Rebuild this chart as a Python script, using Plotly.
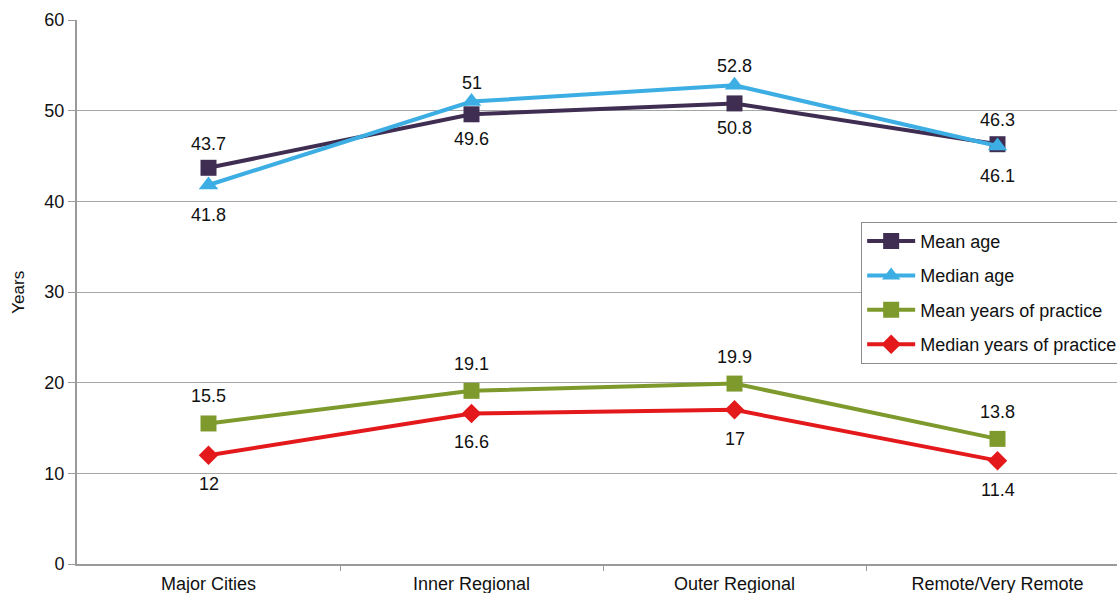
import plotly.graph_objects as go

regions = ["Major Cities", "Inner Regional", "Outer Regional", "Remote/Very Remote"]
mean_age = [43.7, 49.6, 50.8, 46.3]
median_age = [41.8, 51, 52.8, 46.1]
mean_practice = [15.5, 19.1, 19.9, 13.8]
median_practice = [12, 16.6, 17, 11.4]

x = list(range(len(regions)))
FONT = "Liberation Sans, Arial, sans-serif"

# label side per point: +1 above the marker, -1 below
series = [
    dict(name="Mean age", y=mean_age, color="#3F2E52", symbol="square", size=16,
         side=[1, -1, -1, 1], up=24, down=25),
    dict(name="Median age", y=median_age, color="#3CAEE3", symbol="triangle-up", size=17,
         side=[-1, 1, 1, -1], up=19, down=30),
    dict(name="Mean years of practice", y=mean_practice, color="#7E9A2D", symbol="square", size=16,
         side=[1, 1, 1, 1], up=27, down=27),
    dict(name="Median years of practice", y=median_practice, color="#E3191C", symbol="diamond", size=15,
         side=[-1, -1, -1, -1], up=29, down=29),
]

fig = go.Figure()
annotations = []
for i, s in enumerate(series):
    fig.add_trace(go.Scatter(
        x=x, y=s["y"], name=s["name"], legendgroup=f"g{i}",
        mode="lines+markers",
        line=dict(color=s["color"], width=4),
        marker=dict(color=s["color"], symbol=s["symbol"], size=s["size"]),
        cliponaxis=False,
    ))
    for xi, v, sd in zip(x, s["y"], s["side"]):
        annotations.append(dict(
            x=xi, y=v, xref="x", yref="y", text=f"{v:g}", showarrow=False,
            xanchor="center", yanchor="middle",
            yshift=s["up"] if sd > 0 else -s["down"],
            font=dict(family=FONT, size=18, color="#111111"),
        ))

annotations.append(dict(
    text="Years", textangle=-90, xref="paper", yref="paper",
    x=-0.057, y=0.5, xanchor="center", yanchor="middle", showarrow=False,
    font=dict(family=FONT, size=17, color="#111111"),
))

grid = "#A6A6A6"
fig.update_layout(
    width=1117, height=593,
    margin=dict(l=77, r=0, t=20, b=29, autoexpand=False),
    paper_bgcolor="white", plot_bgcolor="white",
    font=dict(family=FONT, size=18, color="#111111"),
    showlegend=True,
    legend=dict(
        x=0.754, y=0.629, xanchor="left", yanchor="top",
        bordercolor="#8C8C8C", borderwidth=1, bgcolor="white",
        font=dict(family=FONT, size=18, color="#111111"),
        tracegroupgap=8, itemwidth=48,
    ),
    xaxis=dict(
        range=[-0.5, -0.5 + 1040 / 263],
        tickmode="array", tickvals=x, ticktext=regions, ticks="",
        ticklabelstandoff=2,
        showgrid=False, zeroline=False,
        showline=True, linecolor="#9A9A9A", linewidth=2,
        minor=dict(tickmode="array", tickvals=[0.5, 1.5, 2.5], ticks="outside",
                   ticklen=5, tickcolor="#9A9A9A", tickwidth=1, showgrid=False),
        fixedrange=True,
    ),
    yaxis=dict(
        range=[0, 60], tickmode="linear", tick0=0, dtick=10,
        ticks="outside", ticklen=7, tickcolor="#9A9A9A",
        showgrid=True, gridcolor=grid, gridwidth=1,
        zeroline=False,
        showline=True, linecolor="#9A9A9A", linewidth=2,
        fixedrange=True,
    ),
    annotations=annotations,
)

fig.write_html("out.html")
